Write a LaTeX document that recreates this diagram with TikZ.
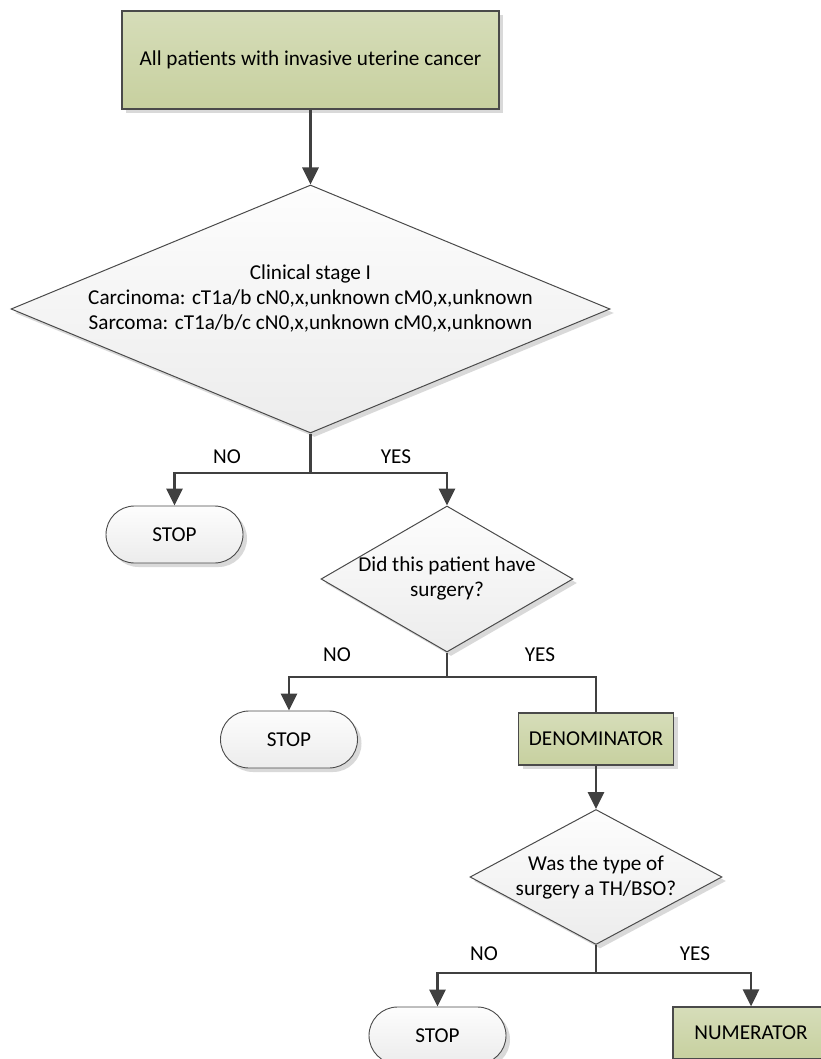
\documentclass[tikz,border=0pt]{standalone}
\usepackage{fontspec}
\setmainfont{Carlito}
\usetikzlibrary{shapes.geometric,shapes.misc,shadows,arrows.meta}

\definecolor{ink}{HTML}{404040}
\definecolor{edge}{HTML}{4A4A4A}
\definecolor{greenhi}{HTML}{D6DDB9}
\definecolor{greenlo}{HTML}{C7D09F}
\definecolor{palehi}{HTML}{FDFDFD}
\definecolor{palelo}{HTML}{ECECEC}
\definecolor{shade}{HTML}{D9D9D9}

\tikzset{
  shadowed/.style={drop shadow={shadow xshift=4pt,shadow yshift=-4pt,fill=shade,opacity=1}},
  txt/.style={font=\fontsize{21.2}{25}\selectfont, text=black, align=center, inner sep=0pt},
  greenbox/.style={rectangle, draw=edge, line width=1.2pt, top color=greenhi, bottom color=greenlo, shadowed, txt},
  decision/.style={diamond, draw=edge, line width=1pt, top color=palehi, bottom color=palelo, shadowed, inner sep=0pt},
  terminal/.style={rounded rectangle, draw=edge, line width=0.9pt, top color=palehi, bottom color=palelo, shadowed, txt, minimum width=137pt, minimum height=57pt},
  conn/.style={draw=ink, line width=2.8pt},
  arr/.style={conn, -{Triangle[width=16pt,length=17pt]}},
}

\begin{document}
\begin{tikzpicture}[x=1pt,y=-1pt]
\useasboundingbox (0,0) rectangle (820,1059);

% start box
\node[greenbox, minimum width=377pt, minimum height=98pt] (all) at (310.5,60) {All patients with invasive uterine cancer};

% first decision: clinical stage
\node[decision, minimum width=599pt, minimum height=248pt] (d1) at (310.5,309) {};
\node[txt] (d1t) at (310.5,298) {Clinical stage I\\Carcinoma: cT1a/b cN0,x,unknown cM0,x,unknown\\Sarcoma: cT1a/b/c cN0,x,unknown cM0,x,unknown};
\draw[arr] (all.south) -- (d1.north);

\coordinate (b1) at (310.5,473);
\node[terminal] (stop1) at (174.5,534.5) {STOP};
\node[decision, minimum width=252pt, minimum height=146pt] (d2) at (447,579) {};
\node[txt] (d2t) at (447,578) {Did this patient have\\surgery?};
\draw[conn] (d1.south) -- (b1);
\draw[arr] (b1) -| (stop1.north);
\draw[arr] (b1) -| (d2.north);
\node[txt] (no1) at (227,457) {NO};
\node[txt] (yes1) at (396,457) {YES};

% second decision: surgery
\coordinate (b2) at (447,677);
\node[terminal] (stop2) at (289,739.5) {STOP};
\node[greenbox, minimum width=155pt, minimum height=52pt] (den) at (596,739) {DENOMINATOR};
\draw[conn] (d2.south) -- (b2);
\draw[arr] (b2) -| (stop2.north);
\draw[conn] (b2) -| (den.north);
\node[txt] (no2) at (337,655) {NO};
\node[txt] (yes2) at (540,655) {YES};

% third decision: type of surgery
\node[decision, minimum width=252pt, minimum height=135pt] (d3) at (596,877) {};
\node[txt] (d3t) at (596,877.5) {Was the type of\\surgery a TH/BSO?};
\draw[arr] (den.south) -- (d3.north);

\coordinate (b3) at (596,973);
\node[terminal] (stop3) at (437.5,1035.5) {STOP};
\node[greenbox, minimum width=156pt, minimum height=52pt] (num) at (751,1033) {NUMERATOR};
\draw[conn] (d3.south) -- (b3);
\draw[arr] (b3) -| (stop3.north);
\draw[arr] (b3) -| (num.north);
\node[txt] (no3) at (484,954) {NO};
\node[txt] (yes3) at (695,954) {YES};
\end{tikzpicture}
\end{document}
